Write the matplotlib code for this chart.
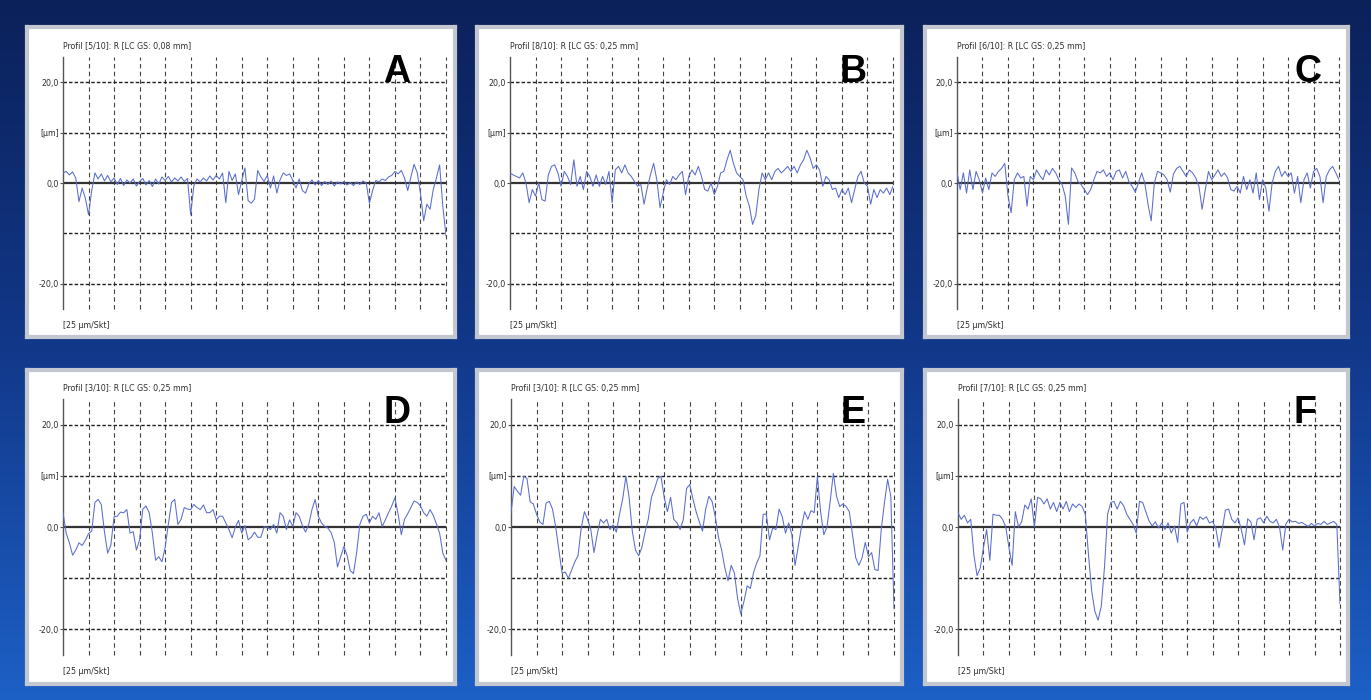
import numpy as np
import matplotlib.pyplot as plt
from matplotlib.colors import LinearSegmentedColormap

W, H = 1371, 700

letters = ['A', 'B', 'C', 'D', 'E', 'F']
headers = [
    'Profil [5/10]: R [LC GS: 0,08 mm]',
    'Profil [8/10]: R [LC GS: 0,25 mm]',
    'Profil [6/10]: R [LC GS: 0,25 mm]',
    'Profil [3/10]: R [LC GS: 0,25 mm]',
    'Profil [3/10]: R [LC GS: 0,25 mm]',
    'Profil [7/10]: R [LC GS: 0,25 mm]',
]
scale_label = '[25 µm/Skt]'
ytick_vals = [20, 10, 0, -20]
ytick_text = ['20,0', '[µm]', '0,0', '-20,0']
n_div = 15  # 25 µm per division

# profile heights in µm, 8 samples per division
prof_a = [2.0, 2.3, 1.6, 2.2, 1.0, -3.7, -1.0, -3.0,
          -6.3, -1.5, 2.0, 0.8, 1.8, 0.4, 1.5, 0.2,
          1.0, -0.3, 0.9, -0.5, 0.6, 0.0, 0.8, -0.6,
          0.3, 0.9, -0.4, 0.5, -0.7, 0.8, -0.2, 1.2,
          0.5, 1.3, 0.2, 1.0, 0.4, 1.2, 0.3, 0.9,
          -6.3, -0.5, 0.8, 0.2, 1.0, 0.4, 1.4, 0.6,
          1.5, 0.8, 2.0, -3.9, 2.3, 0.5, 1.8, -2.3,
          0.5, 3.0, -3.5, -4.0, -3.2, 2.5, 1.2, 0.3,
          1.5, -1.0, 1.4, -2.0, 0.6, 2.0, 1.5, 1.8,
          0.5, -1.0, 0.8, -1.5, -2.0, -0.2, 0.6, -0.4,
          0.5, -0.5, 0.3, -0.3, 0.4, -0.6, 0.2, -0.2,
          0.3, -0.4, 0.1, -0.5, 0.2, -0.3, 0.4, 0.0,
          -4.0, -1.5, 0.5, 0.2, 0.8, 0.5, 1.2, 1.5,
          2.3, 1.8, 2.5, 1.0, -1.5, 1.2, 3.7, 2.0,
          -2.0, -7.5, -4.2, -5.2, -1.3, 1.0, 3.6, -4.6,
          -10.5]

prof_b = [2.0, 1.6, 1.3, 1.0, 2.0, 0.0, -3.9, -1.3,
          -2.6, 0.0, -3.3, -3.6, 1.6, 3.3, 3.6, 2.0,
          -0.65, 2.3, 1.3, -0.3, 4.6, -0.65, 1.3, -1.3,
          2.3, 1.3, -0.65, 1.6, -0.65, 1.3, -0.3, 2.3,
          -3.9, 2.6, 3.3, 2.0, 3.6, 2.0, 1.3, 0.3,
          -0.65, -0.3, -4.2, -1.0, 1.6, 3.9, 0.65, -4.9,
          -2.0, 0.65, -0.3, 1.3, 0.65, 1.6, 2.3, -2.3,
          1.3, 2.6, 1.6, 3.3, 1.3, -1.3, -1.6, 0.0,
          -2.3, -0.65, 2.0, 2.3, 4.6, 6.5, 3.9, 2.0,
          1.3, 0.65, -2.6, -4.6, -8.2, -6.5, -1.3, 2.0,
          0.65, 2.0, 0.65, 2.3, 2.9, 2.0, 2.6, 3.3,
          2.3, 3.3, 2.0, 3.6, 4.6, 6.5, 5.0, 2.9,
          3.6, 2.6, -0.65, 1.3, 0.65, -1.3, -1.0, -2.9,
          -1.3, -2.3, -1.0, -3.9, -1.3, 1.3, 2.3, 0.0,
          -0.65, -4.2, -1.3, -2.9, -1.3, -2.0, -1.0, -2.3,
          -0.65]

prof_c = [2.0, -1.3, 2.0, -2.0, 2.6, -1.3, 2.3, 0.65,
          -2.0, 1.0, -1.3, 2.0, 1.3, 2.3, 2.9, 3.9,
          -2.5, -5.9, 0.65, 2.0, 1.0, 1.3, -4.6, 1.3,
          0.65, 2.6, 1.5, 0.65, 2.6, 1.6, 2.9, 2.0,
          0.65, -0.3, -2.6, -8.2, 3.0, 2.0, 0.3, -0.3,
          -1.3, -2.3, -1.3, 0.65, 2.3, 2.0, 2.6, 1.3,
          2.0, 0.65, 2.3, 2.6, 1.0, 2.3, 0.3, -0.65,
          -1.8, 0.0, 2.0, 0.0, -4.2, -7.5, 0.0, 2.3,
          2.0, 1.6, 0.65, -1.8, 1.8, 2.9, 3.3, 2.3,
          1.3, 2.6, 2.0, 1.0, -0.65, -5.2, -1.3, 2.3,
          0.65, 1.6, 2.6, 1.3, 2.0, 1.0, -1.3, -1.6,
          -0.65, -2.0, 1.3, -1.3, 0.65, -2.0, 2.0, -3.3,
          0.65, -1.0, -5.6, 0.0, 2.3, 3.3, 1.3, 2.3,
          1.3, 2.0, -2.0, 1.3, -3.9, 0.65, 2.0, -1.0,
          2.3, 2.9, 1.3, -3.9, 1.3, 2.6, 3.3, 2.0,
          0.65]

prof_d = [2.8, -1.2, -3.1, -5.5, -4.5, -3.1, -3.6, -2.6,
          -1.3, -0.8, 4.8, 5.4, 4.4, -1.0, -5.1, -3.5,
          2.0, 2.1, 2.9, 2.8, 3.4, -1.2, -0.9, -4.5,
          -2.5, 3.5, 4.1, 2.8, -1.2, -6.5, -5.8, -6.8,
          -4.0, 0.5, 4.8, 5.4, 0.5, 1.5, 3.8, 3.5,
          3.4, 4.4, 3.8, 3.4, 4.3, 2.8, 2.8, 3.4,
          1.4, 2.1, 2.1, 0.8, -0.5, -2.1, 0.0, 1.3,
          -1.2, 0.3, -2.5, -2.0, -1.0, -2.0, -2.0, 0.0,
          0.0, -0.5, 0.5, -1.2, 2.8, 2.1, -0.5, 1.4,
          0.1, 2.8, 2.1, 0.3, -1.0, 0.5, 3.4, 5.4,
          2.1, 0.8, 0.1, -0.2, -1.1, -3.0, -7.8, -5.8,
          -3.8, -5.5, -8.5, -9.1, -5.0, 0.5, 2.1, 2.5,
          0.8, 2.1, 1.5, 2.8, 0.1, 1.4, 2.8, 4.1,
          5.7, 2.5, -1.5, 1.5, 2.6, 3.8, 5.1, 4.8,
          4.1, 2.8, 2.1, 3.4, 2.3, 0.6, -1.2, -5.1,
          -6.5]

prof_e = [2.8, 7.9, 7.0, 6.2, 9.9, 9.5, 4.9, 4.5,
          2.5, 1.0, 0.5, 4.7, 5.0, 3.5, 0.0, -4.5,
          -9.0, -8.8, -10.0, -8.4, -6.8, -5.6, -0.2, 3.0,
          1.5, -0.5, -5.0, -1.5, 1.5, 0.8, 1.5, -0.5,
          0.4, -1.0, 2.5, 5.5, 9.9, 5.8, -0.8, -4.5,
          -5.6, -4.0, -1.0, 1.5, 5.8, 7.5, 9.5, 9.9,
          5.8, 3.0, 5.8, 1.5, 0.8, -0.5, 1.5, 7.5,
          8.3, 5.5, 3.0, 1.0, -0.8, 3.5, 6.0, 5.0,
          2.0, -2.0, -4.5, -8.0, -10.5, -7.5, -9.0, -14.0,
          -17.0, -14.5, -11.5, -12.0, -8.9, -7.0, -5.6, 2.5,
          2.5, -2.5, -0.2, -0.5, 3.5, 2.0, -1.2, 0.8,
          -1.5, -7.5, -3.8, 0.0, 3.0, 1.5, 3.2, 2.8,
          9.9, 3.0, -1.5, 0.0, 5.0, 10.5, 6.0, 4.0,
          4.5, 4.0, 3.0, -1.5, -6.0, -7.5, -6.0, -3.0,
          -5.8, -5.0, -8.3, -8.5, -0.5, 4.7, 9.3, 6.0,
          -16.0]

prof_f = [2.8, 1.5, 2.3, 0.8, 1.5, -5.5, -9.5, -8.0,
          -4.0, -0.5, -6.5, 2.5, 2.3, 2.3, 1.5, 0.0,
          -4.0, -7.5, 3.0, 0.0, 1.0, 4.3, 3.5, 5.5,
          0.0, 5.8, 5.5, 4.5, 5.5, 3.5, 4.8, 3.0,
          4.8, 3.5, 5.0, 3.0, 4.5, 3.8, 4.5, 4.0,
          2.5, -5.5, -12.5, -16.5, -18.2, -15.5, -8.0, 2.5,
          4.8, 5.0, 3.5, 5.0, 4.2, 2.5, 1.5, 0.5,
          -1.2, 5.0, 4.8, 3.0, 1.2, 0.2, 1.0, -0.2,
          0.8, -0.5, 0.8, -1.2, 0.2, -3.0, 4.5, 4.8,
          -1.0, 0.8, 1.5, 0.2, 2.0, 1.5, 2.0, 0.8,
          1.1, -0.3, -4.0, -0.5, 3.3, 3.5, 1.5, 0.8,
          1.8, -0.5, -3.5, 1.6, 1.0, -2.5, 1.5, 1.8,
          0.8, 2.1, 1.1, 0.8, 1.5, 0.0, -4.5, 0.6,
          1.5, 1.0, 1.1, 0.7, 0.9, 0.5, 0.1, 0.7,
          0.2, 0.7, 0.5, 1.1, 0.5, 0.8, 1.1, 0.5,
          -15.0]

profiles = [prof_a, prof_b, prof_c, prof_d, prof_e, prof_f]

# pixel boxes (left, top, right, bottom)
frames = [(27, 27, 455, 337), (477, 27, 902, 337), (925, 27, 1348, 337),
          (27, 370, 455, 684), (477, 370, 902, 684), (925, 370, 1348, 684)]
plots = [(63, 57, 446, 309), (510, 57, 893, 309), (957, 57, 1339, 309),
         (63, 399, 446, 655), (511, 399, 894, 655), (958, 399, 1340, 655)]
letter_pos = [(397, 72), (853, 72), (1308, 72), (397, 413), (853, 413), (1305, 413)]

small = dict(family='DejaVu Sans', fontstretch='condensed', fontsize=6.3, color='#2e2e2e')


def px_axes(fig, box, **kw):
    x0, y0, x1, y1 = box
    return fig.add_axes([x0 / W, 1 - y1 / H, (x1 - x0) / W, (y1 - y0) / H], **kw)


fig = plt.figure(figsize=(W / 100, H / 100), dpi=100)

# blue gradient background
bg = fig.add_axes([0, 0, 1, 1])
cmap = LinearSegmentedColormap.from_list('bg', ['#0b215a', '#12388a', '#1d60c6'])
grad = np.linspace(0, 1, 256)[:, None] * np.ones((1, 8))
bg.imshow(grad, cmap=cmap, aspect='auto', extent=[0, 1, 0, 1], origin='upper')
bg.axis('off')

for i in range(6):
    fr = px_axes(fig, frames[i])
    fr.set_facecolor('white')
    fr.set_xticks([])
    fr.set_yticks([])
    for s in fr.spines.values():
        s.set_color('#c3c7cf')
        s.set_linewidth(3)

    ax = px_axes(fig, plots[i])
    ax.set_facecolor('none')
    y = np.array(profiles[i])
    x = np.linspace(0, n_div, len(y))
    ax.set_xlim(0, n_div)
    ax.set_ylim(-25, 25)

    for v in range(1, n_div + 1):
        ax.axvline(v, color='#444444', lw=0.8, ls=(0, (4, 3)), zorder=1, clip_on=False)
    for h in [20, 10, -10, -20]:
        ax.axhline(h, color='#1e1e1e', lw=1.0, ls=(0, (2.5, 1.5)), zorder=1)
    ax.axhline(0, color='#333333', lw=1.6, zorder=2)

    ax.plot(x, y, color='#5a6dcc', lw=0.75, zorder=3)

    ax.set_xticks([])
    ax.set_yticks(ytick_vals)
    ax.set_yticklabels(ytick_text, **small)
    ax.tick_params(axis='y', length=2, width=0.8, pad=1, color='#555555')
    for s in ['top', 'right', 'bottom']:
        ax.spines[s].set_visible(False)
    ax.spines['left'].set_color('#555555')
    ax.spines['left'].set_linewidth(1.0)

    x0, y0, x1, y1 = plots[i]
    fig.text(x0 / W, 1 - (y0 - 10) / H, headers[i], va='center', ha='left', **small)
    fig.text(x0 / W, 1 - (y1 + 16) / H, scale_label, va='center', ha='left', **small)
    lx, ly = letter_pos[i]
    fig.text(lx / W, 1 - ly / H, letters[i], family=['Liberation Sans', 'DejaVu Sans'],
             fontsize=27, fontweight='bold', color='black', va='center', ha='center')

fig.savefig('out.png', dpi=100)
